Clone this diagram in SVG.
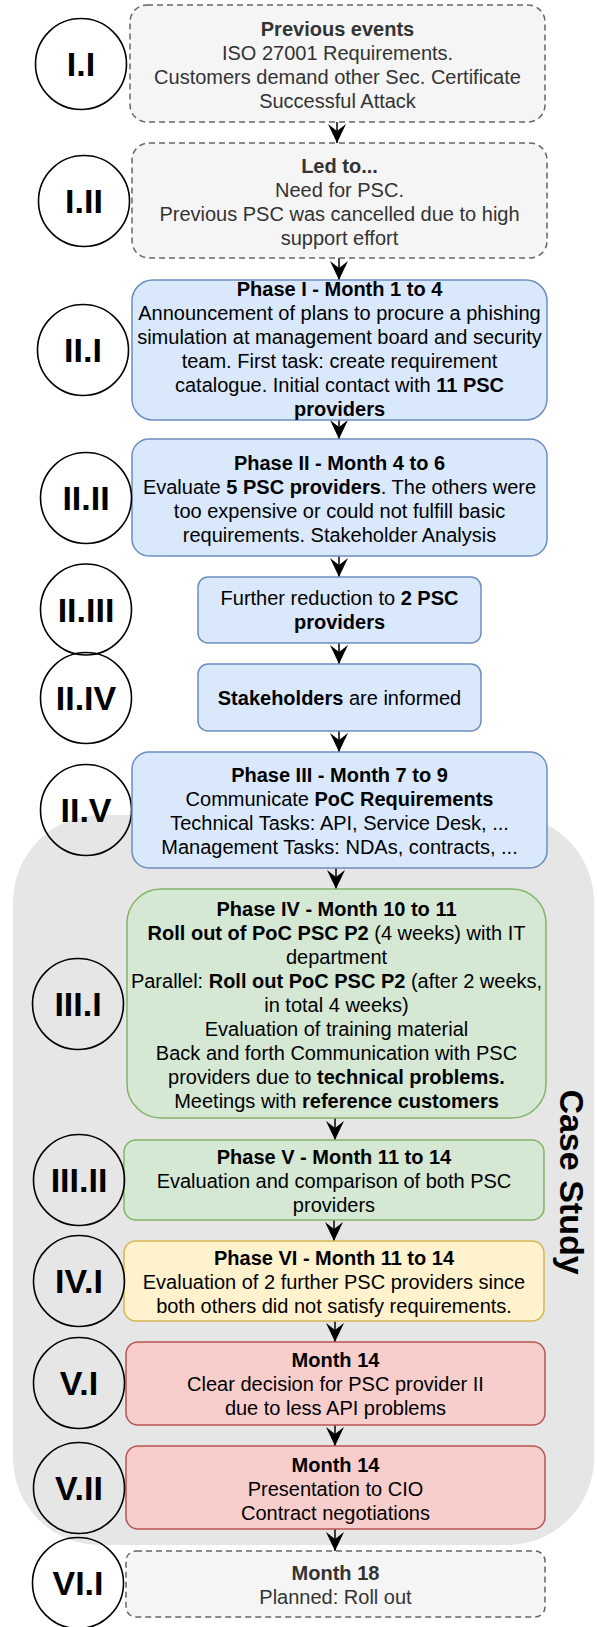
<svg xmlns="http://www.w3.org/2000/svg" width="597" height="1627" viewBox="0 0 597 1627">
<style>
text{font-family:"Liberation Sans",Arial,sans-serif;}
.t{font-size:20px;text-anchor:middle;fill:#000;}
.tg{font-size:20px;text-anchor:middle;fill:#333333;}
.b{font-weight:bold;}
.lbl{font-size:34px;font-weight:bold;text-anchor:middle;fill:#000;}
.circ{fill:none;stroke:#000;stroke-width:1.6;}
.gray{fill:#f5f5f5;stroke:#666666;stroke-width:1.5;stroke-dasharray:6 4;}
.blue{fill:#dae8fc;stroke:#6c8ebf;stroke-width:1.5;}
.green{fill:#d5e8d4;stroke:#82b366;stroke-width:1.5;}
.yellow{fill:#fff2cc;stroke:#d6b656;stroke-width:1.5;}
.red{fill:#f8cecc;stroke:#b85450;stroke-width:1.5;}
.edge{stroke:#000;stroke-width:1.5;fill:none;marker-end:url(#arr);}
</style>
<defs>
<marker id="arr" markerUnits="userSpaceOnUse" viewBox="0 0 19 18" refX="19" refY="9" markerWidth="19" markerHeight="18" orient="auto">
<polygon points="0,0 19,9 0,18 7,9" fill="#000"/>
</marker>
</defs>

<g id="case-study-bg">
<rect x="13" y="815" width="581" height="730" rx="87" ry="87" fill="#e6e6e6"/>
<text transform="translate(560,1182) rotate(90)" font-size="34" font-weight="bold" text-anchor="middle" fill="#000">Case Study</text>
</g>

<g id="connectors">
<line class="edge" x1="337" y1="122" x2="337" y2="143"/>
<line class="edge" x1="339" y1="258" x2="339" y2="280"/>
<line class="edge" x1="339" y1="420" x2="339" y2="439"/>
<line class="edge" x1="339" y1="556" x2="339" y2="577"/>
<line class="edge" x1="339" y1="643" x2="339" y2="664"/>
<line class="edge" x1="339" y1="731" x2="339" y2="752"/>
<line class="edge" x1="336" y1="868" x2="336" y2="889"/>
<line class="edge" x1="335" y1="1118" x2="335" y2="1140"/>
<line class="edge" x1="334" y1="1220" x2="334" y2="1241"/>
<line class="edge" x1="335" y1="1321" x2="335" y2="1342"/>
<line class="edge" x1="335" y1="1425" x2="335" y2="1446"/>
<line class="edge" x1="335" y1="1529" x2="335" y2="1551"/>
</g>

<g id="node-I.I">
<rect class="gray" x="130" y="5" width="415" height="117" rx="17"/>
<text class="tg"><tspan class="b" x="337.5" y="35.5">Previous events</tspan><tspan x="337.5" y="59.5">ISO 27001 Requirements.</tspan><tspan x="337.5" y="83.5">Customers demand other Sec. Certificate</tspan><tspan x="337.5" y="107.5">Successful Attack</tspan></text>
</g>
<g id="label-I.I"><circle class="circ" cx="81" cy="64" r="45.5"/><text class="lbl" x="81" y="76">I.I</text></g>

<g id="node-I.II">
<rect class="gray" x="132" y="143" width="415" height="115" rx="17"/>
<text class="tg"><tspan class="b" x="339.5" y="172.5">Led to...</tspan><tspan x="339.5" y="196.5">Need for PSC.</tspan><tspan x="339.5" y="220.5">Previous PSC was cancelled due to high</tspan><tspan x="339.5" y="244.5">support effort</tspan></text>
</g>
<g id="label-I.II"><circle class="circ" cx="84" cy="201" r="45.5"/><text class="lbl" x="84" y="213">I.II</text></g>

<g id="node-II.I">
<rect class="blue" x="132" y="280" width="415" height="140" rx="21"/>
<text class="t"><tspan class="b" x="339.5" y="296">Phase I - Month 1 to 4</tspan><tspan x="339.5" y="320">Announcement of plans to procure a phishing</tspan><tspan x="339.5" y="344">simulation at management board and security</tspan><tspan x="339.5" y="368">team. First task: create requirement</tspan><tspan x="339.5" y="392">catalogue. Initial contact with <tspan class="b">11 PSC</tspan></tspan><tspan class="b" x="339.5" y="416">providers</tspan></text>
</g>
<g id="label-II.I"><circle class="circ" cx="83" cy="350" r="45.5"/><text class="lbl" x="83" y="362">II.I</text></g>

<g id="node-II.II">
<rect class="blue" x="132" y="439" width="415" height="117" rx="17"/>
<text class="t"><tspan class="b" x="339.5" y="469.5">Phase II - Month 4 to 6</tspan><tspan x="339.5" y="493.5">Evaluate <tspan class="b">5 PSC providers</tspan>. The others were</tspan><tspan x="339.5" y="517.5">too expensive or could not fulfill basic</tspan><tspan x="339.5" y="541.5">requirements. Stakeholder Analysis</tspan></text>
</g>
<g id="label-II.II"><circle class="circ" cx="86" cy="498" r="45.5"/><text class="lbl" x="86" y="510">II.II</text></g>

<g id="node-II.III">
<rect class="blue" x="198" y="577" width="283" height="66" rx="10"/>
<text class="t"><tspan x="339.5" y="605">Further reduction to <tspan class="b">2 PSC</tspan></tspan><tspan class="b" x="339.5" y="629">providers</tspan></text>
</g>
<g id="label-II.III"><circle class="circ" cx="86" cy="609.5" r="45.5"/><text class="lbl" x="86" y="621.5">II.III</text></g>

<g id="node-II.IV">
<rect class="blue" x="198" y="664" width="283" height="67" rx="10"/>
<text class="t" x="339.5" y="704.5"><tspan class="b">Stakeholders</tspan> are informed</text>
</g>
<g id="label-II.IV"><circle class="circ" cx="86" cy="698" r="45.5"/><text class="lbl" x="86" y="710">II.IV</text></g>

<g id="label-II.V"><circle class="circ" cx="86" cy="810" r="45.5"/><text class="lbl" x="86" y="822">II.V</text></g>
<g id="node-II.V">
<rect class="blue" x="132" y="752" width="415" height="116" rx="17"/>
<text class="t"><tspan class="b" x="339.5" y="782">Phase III - Month 7 to 9</tspan><tspan x="339.5" y="806">Communicate <tspan class="b">PoC Requirements</tspan></tspan><tspan x="339.5" y="830">Technical Tasks: API, Service Desk, ...</tspan><tspan x="339.5" y="854">Management Tasks: NDAs, contracts, ...</tspan></text>
</g>

<g id="node-III.I">
<rect class="green" x="127" y="889" width="419" height="229" rx="34"/>
<text class="t"><tspan class="b" x="336.5" y="916">Phase IV - Month 10 to 11</tspan><tspan x="336.5" y="940"><tspan class="b">Roll out of PoC PSC P2</tspan> (4 weeks) with IT</tspan><tspan x="336.5" y="964">department</tspan><tspan x="336.5" y="988">Parallel: <tspan class="b">Roll out PoC PSC P2</tspan> (after 2 weeks,</tspan><tspan x="336.5" y="1012">in total 4 weeks)</tspan><tspan x="336.5" y="1036">Evaluation of training material</tspan><tspan x="336.5" y="1060">Back and forth Communication with PSC</tspan><tspan x="336.5" y="1084">providers due to <tspan class="b">technical problems.</tspan></tspan><tspan x="336.5" y="1108">Meetings with <tspan class="b">reference customers</tspan></tspan></text>
</g>
<g id="label-III.I"><circle class="circ" cx="78" cy="1004" r="45.5"/><text class="lbl" x="78" y="1016">III.I</text></g>

<g id="node-III.II">
<rect class="green" x="124" y="1140" width="420" height="80" rx="12"/>
<text class="t"><tspan class="b" x="334" y="1164">Phase V - Month 11 to 14</tspan><tspan x="334" y="1188">Evaluation and comparison of both PSC</tspan><tspan x="334" y="1212">providers</tspan></text>
</g>
<g id="label-III.II"><circle class="circ" cx="79" cy="1180" r="45.5"/><text class="lbl" x="79" y="1192">III.II</text></g>

<g id="node-IV.I">
<rect class="yellow" x="124" y="1241" width="420" height="80" rx="12"/>
<text class="t"><tspan class="b" x="334" y="1265">Phase VI - Month 11 to 14</tspan><tspan x="334" y="1289">Evaluation of 2 further PSC providers since</tspan><tspan x="334" y="1313">both others did not satisfy requirements.</tspan></text>
</g>
<g id="label-IV.I"><circle class="circ" cx="79" cy="1281" r="45.5"/><text class="lbl" x="79" y="1293">IV.I</text></g>

<g id="node-V.I">
<rect class="red" x="126" y="1342" width="419" height="83" rx="12"/>
<text class="t"><tspan class="b" x="335.5" y="1367">Month 14</tspan><tspan x="335.5" y="1391">Clear decision for PSC provider II</tspan><tspan x="335.5" y="1415">due to less API problems</tspan></text>
</g>
<g id="label-V.I"><circle class="circ" cx="79" cy="1383" r="45.5"/><text class="lbl" x="79" y="1395">V.I</text></g>

<g id="node-V.II">
<rect class="red" x="126" y="1446" width="419" height="83" rx="12"/>
<text class="t"><tspan class="b" x="335.5" y="1471.5">Month 14</tspan><tspan x="335.5" y="1495.5">Presentation to CIO</tspan><tspan x="335.5" y="1519.5">Contract negotiations</tspan></text>
</g>
<g id="label-V.II"><circle class="circ" cx="79" cy="1488" r="45.5"/><text class="lbl" x="79" y="1500">V.II</text></g>

<g id="node-VI.I">
<rect class="gray" x="126" y="1551" width="419" height="66" rx="10"/>
<text class="tg"><tspan class="b" x="335.5" y="1579.5">Month 18</tspan><tspan x="335.5" y="1603.5">Planned: Roll out</tspan></text>
</g>
<g id="label-VI.I"><circle class="circ" cx="78" cy="1583" r="45.5"/><text class="lbl" x="78" y="1595">VI.I</text></g>
</svg>
